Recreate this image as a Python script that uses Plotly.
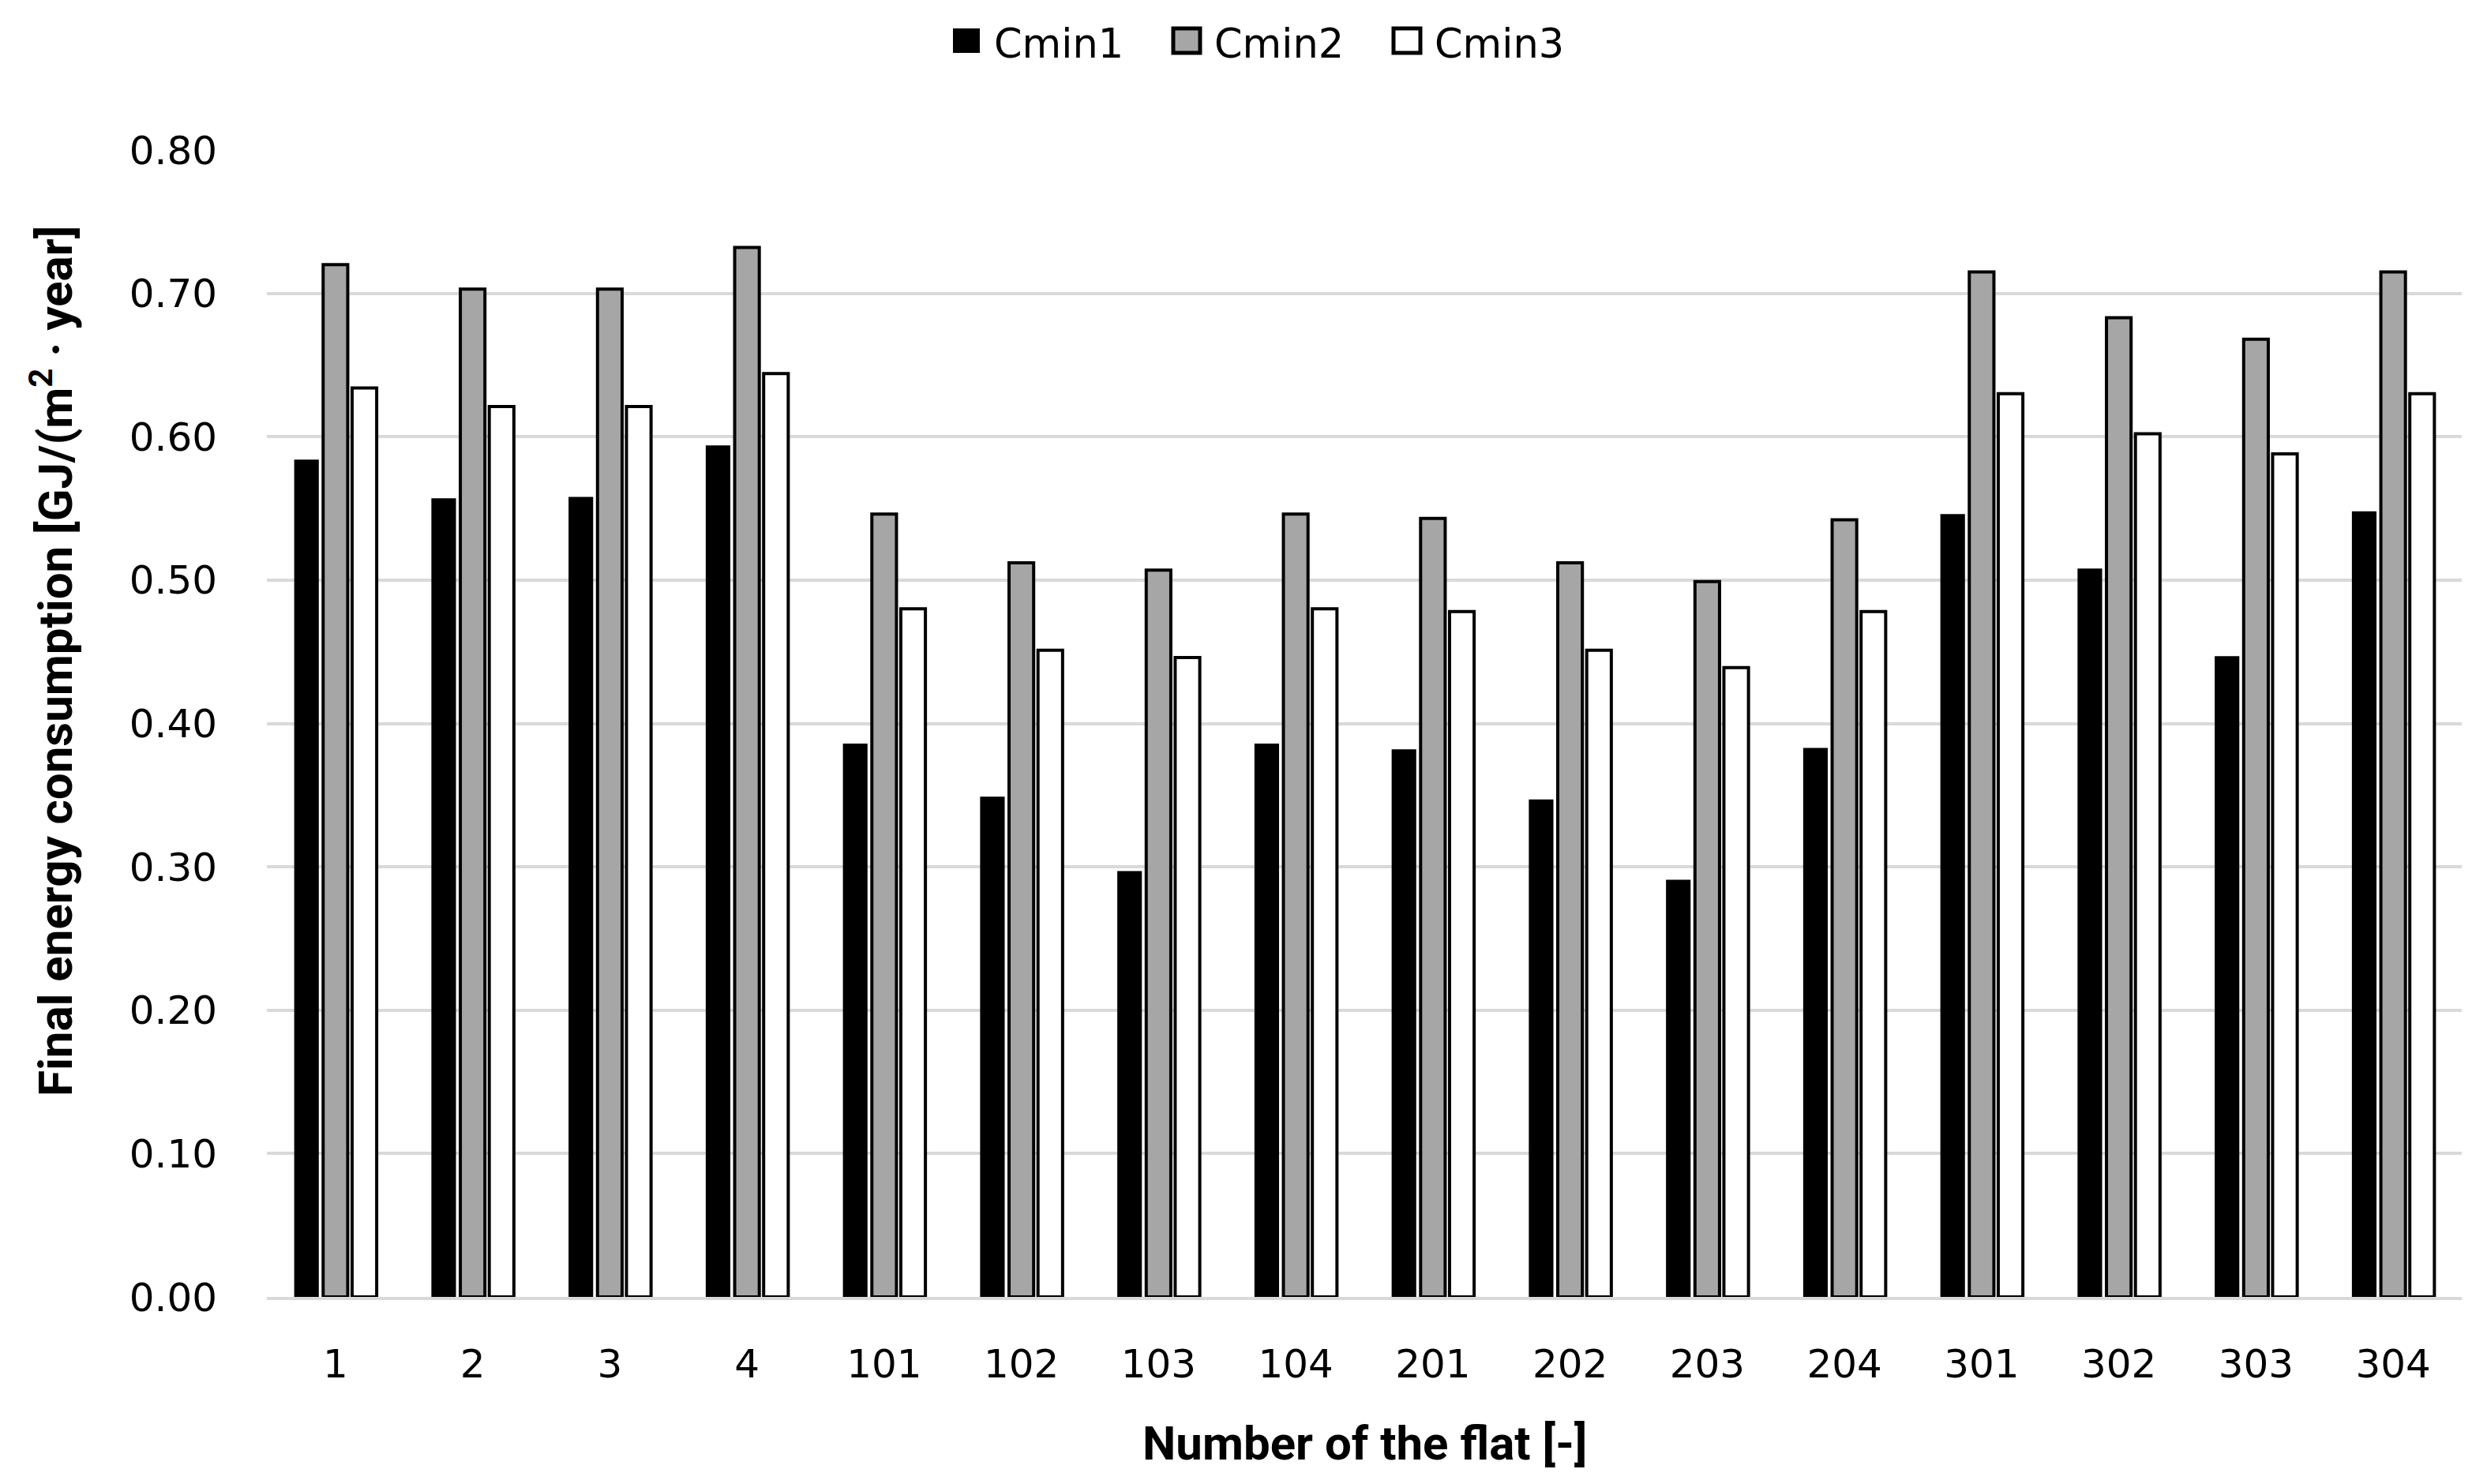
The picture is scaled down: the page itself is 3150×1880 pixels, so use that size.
import plotly.graph_objects as go

flats = ["1", "2", "3", "4", "101", "102", "103", "104",
         "201", "202", "203", "204", "301", "302", "303", "304"]
cmin1 = [0.584, 0.557, 0.558, 0.594, 0.386, 0.349, 0.297, 0.386,
         0.382, 0.347, 0.291, 0.383, 0.546, 0.508, 0.447, 0.548]
cmin2 = [0.720, 0.703, 0.703, 0.732, 0.546, 0.512, 0.507, 0.546,
         0.543, 0.512, 0.499, 0.542, 0.715, 0.683, 0.668, 0.715]
cmin3 = [0.634, 0.621, 0.621, 0.644, 0.480, 0.451, 0.446, 0.480,
         0.478, 0.451, 0.439, 0.478, 0.630, 0.602, 0.588, 0.630]
y_ticks = [0.0, 0.1, 0.2, 0.3, 0.4, 0.5, 0.6, 0.7, 0.8]
series_names = ["Cmin1", "Cmin2", "Cmin3"]
fills = ["#000000", "#a6a6a6", "#ffffff"]

W, H = 3150, 1880
ML, MR, MT, MB = 330, 40, 182, 245
PW, PH = W - ML - MR, H - MT - MB


def px_x(x):
    return (x - ML) / PW


def px_y(y):
    return (H - MB - y) / PH


tick_font = dict(family="DejaVu Sans", size=50, color="#000000")
title_font = dict(family="Roboto, sans-serif", size=60, color="#000000")

fig = go.Figure()
for name, vals, fill in zip(series_names, [cmin1, cmin2, cmin3], fills):
    lw = 0 if fill == "#000000" else 4
    fig.add_trace(go.Bar(name=name, x=flats, y=vals, showlegend=False,
                         marker=dict(color=fill, line=dict(color="#000000", width=lw))))

# hand-drawn legend (larger swatches, like the reference)
shapes, annotations = [], []
legend_x0 = [1199, 1478, 1757]
for name, fill, x0 in zip(series_names, fills, legend_x0):
    shapes.append(dict(type="rect", xref="paper", yref="paper",
                       x0=px_x(x0), x1=px_x(x0 + 34), y0=px_y(59), y1=px_y(28),
                       fillcolor=fill,
                       line=dict(color="#000000", width=0 if fill == "#000000" else 5)))
    annotations.append(dict(text=name, xref="paper", yref="paper",
                            x=px_x(x0 + 50), y=px_y(47), xanchor="left", yanchor="middle",
                            showarrow=False,
                            font=dict(family="DejaVu Sans", size=51, color="#000000")))

annotations += [
    dict(text="<b>Number of the flat [-]</b>", xref="paper", yref="paper",
         x=0.5, y=px_y(1820), xanchor="center", yanchor="middle",
         showarrow=False, font=title_font),
    dict(text="<b>Final energy consumption [GJ/(m<sup>2</sup> · year]</b>",
         xref="paper", yref="paper", x=px_x(58), y=px_y(830), textangle=-90,
         xanchor="center", yanchor="middle", showarrow=False, font=title_font),
]

fig.update_layout(
    width=W, height=H,
    paper_bgcolor="white", plot_bgcolor="white",
    margin=dict(l=ML, r=MR, t=MT, b=MB, autoexpand=False),
    barmode="group", bargap=0.367, bargroupgap=0.15,
    showlegend=False,
    font=tick_font,
    shapes=shapes,
    annotations=annotations,
)

fig.update_xaxes(
    type="category", showgrid=False, showline=True, linecolor="#d9d9d9", linewidth=4,
    ticks="", tickfont=tick_font, ticklabelstandoff=38, automargin=False,
)
fig.update_yaxes(
    range=[0, 0.8], tickvals=y_ticks, tickformat=".2f",
    showgrid=True, gridcolor="#d9d9d9", gridwidth=4,
    zeroline=False, showline=False, ticks="",
    tickfont=tick_font, ticklabelstandoff=62, automargin=False,
)

fig.write_html("out.html")
